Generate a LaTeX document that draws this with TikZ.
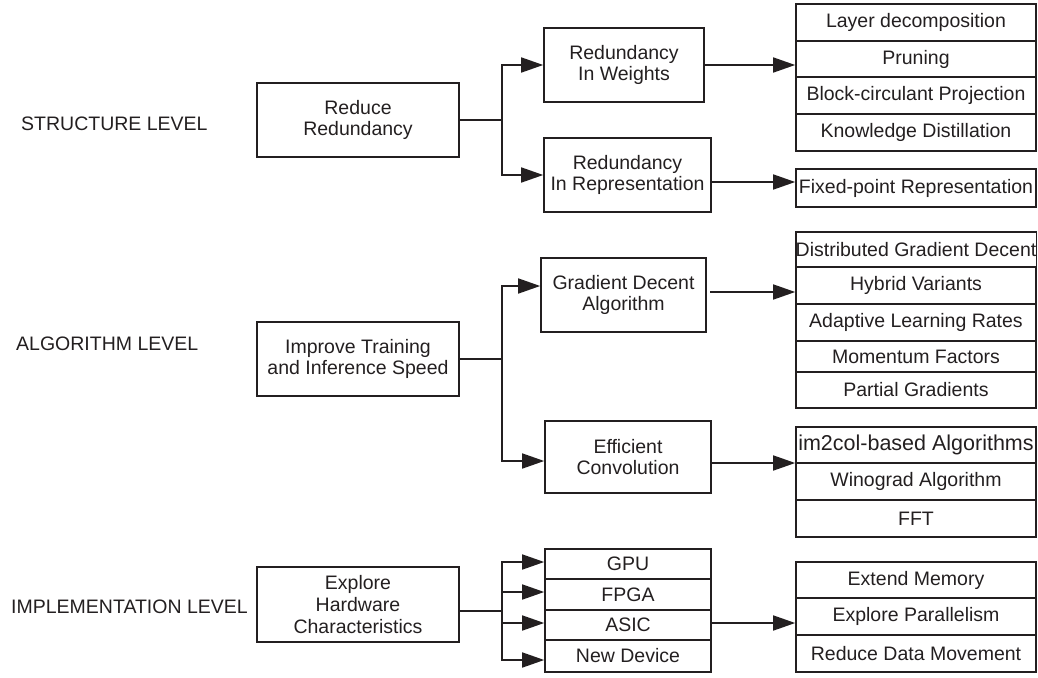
\documentclass[tikz,border=0pt]{standalone}
\usepackage{fontspec}
\setmainfont{Liberation Sans}
\usetikzlibrary{arrows.meta}
\definecolor{ink}{RGB}{35,31,32}
\begin{document}
\begin{tikzpicture}[x=1pt,y=-1pt,
  box/.style={draw=ink, line width=1.6pt, text=ink, align=center, inner sep=0pt,
    font=\fontsize{19.5}{21.7}\selectfont},
  main/.style={box, minimum width=202pt},
  cell/.style={box, minimum width=240pt},
  ln/.style={draw=ink, line width=1.6pt, line cap=rect},
  arr/.style={draw=ink, line width=1.6pt, line cap=rect, -{Triangle[length=22pt,width=15pt]}},
  lvl/.style={anchor=west, text=ink, inner sep=0pt, font=\fontsize{19.5}{21.7}\selectfont}]
\useasboundingbox (0,0) rectangle (1038,677);

% level labels
\node[lvl] (sl) at (21,123.5) {STRUCTURE LEVEL};
\node[lvl] (al) at (16,343.5) {ALGORITHM LEVEL};
\node[lvl] (il) at (11,606.5) {IMPLEMENTATION LEVEL};

% level 1
\node[main, minimum height=74pt] (R) at (358,120) {Reduce\\Redundancy};
\node[main, minimum height=74pt] (I) at (358,359) {Improve Training\\and Inference Speed};
\node[main, minimum height=75pt] (E) at (358,604.5) {Explore\\Hardware\\Characteristics};

% level 2
\node[box, minimum width=160pt, minimum height=74pt] (RW) at (624,65) {Redundancy\\In Weights};
\node[box, minimum width=167pt, minimum height=74pt] (RR) at (627.5,175) {Redundancy\\In Representation};
\node[box, minimum width=165pt, minimum height=74pt] (GD) at (623.5,295) {Gradient Decent\\Algorithm};
\node[box, minimum width=166pt, minimum height=72pt] (EC) at (628,457) {Efficient\\Convolution};
\node[box, minimum width=166pt, minimum height=30pt] (GPU) at (628,564) {GPU};
\node[box, minimum width=166pt, minimum height=31pt] (FPGA) at (628,594.5) {FPGA};
\node[box, minimum width=166pt, minimum height=30pt] (ASIC) at (628,625) {ASIC};
\node[box, minimum width=166pt, minimum height=32pt] (ND) at (628,656) {New Device};

% level 3
\node[cell, minimum height=37pt] (l1) at (916,22.5) {Layer decomposition};
\node[cell, minimum height=36pt] (l2) at (916,59) {Pruning};
\node[cell, minimum height=37pt] (l3) at (916,95.5) {Block-circulant Projection};
\node[cell, minimum height=37pt] (l4) at (916,132.5) {Knowledge Distillation};
\node[cell, minimum height=38pt] (fx) at (916,188) {Fixed-point Representation};
\node[cell, minimum height=35pt] (g1) at (916,249.5) {Distributed Gradient Decent};
\node[cell, minimum height=37pt] (g2) at (916,285.5) {Hybrid Variants};
\node[cell, minimum height=37pt] (g3) at (916,322.5) {Adaptive Learning Rates};
\node[cell, minimum height=31pt] (g4) at (916,356.5) {Momentum Factors};
\node[cell, minimum height=36pt] (g5) at (916,390) {Partial Gradients};
\node[cell, minimum height=36pt, font=\fontsize{21.5}{24}\selectfont] (c1) at (916,445) {im2col-based Algorithms};
\node[cell, minimum height=37pt] (c2) at (916,481.5) {Winograd Algorithm};
\node[cell, minimum height=37pt] (c3) at (916,518.5) {FFT};
\node[cell, minimum height=36pt] (h1) at (916,580) {Extend Memory};
\node[cell, minimum height=37pt] (h2) at (916,616.5) {Explore Parallelism};
\node[cell, minimum height=37pt] (h3) at (916,653.5) {Reduce Data Movement};

% structure connectors
\coordinate (j1a) at (502,65);
\coordinate (j1b) at (502,175);
\draw[ln] (R.east) -- (R.east -| j1a);
\draw[ln] (j1a) -- (j1b);
\draw[arr] (j1a) -- (j1a -| RW.west);
\draw[arr] (j1b) -- (j1b -| RR.west);
\draw[arr] (RW.east) -- (RW.east -| l2.west);
\draw[arr] ([yshift=-7pt]RR.east) -- ([yshift=-7pt]RR.east -| fx.west);

% algorithm connectors
\coordinate (j2a) at (502,286);
\coordinate (j2b) at (502,461);
\draw[ln] (I.east) -- (I.east -| j2a);
\draw[ln] (j2a) -- (j2b);
\draw[arr] (j2a) -- (j2a -| GD.west);
\draw[arr] (j2b) -- (j2b -| EC.west);
\draw[arr] ([shift={(4pt,3pt)}]GD.east) -- ([yshift=3pt]GD.east -| g2.west);
\draw[arr] ([yshift=-6pt]EC.east) -- ([yshift=-6pt]EC.east -| c1.west);

% implementation connectors
\coordinate (j3a) at (502,562);
\coordinate (j3b) at (502,592);
\coordinate (j3c) at (502,623);
\coordinate (j3d) at (502,660);
\draw[ln] ([yshift=-6.5pt]E.east) -- ([yshift=-6.5pt]E.east -| j3a);
\draw[ln] (j3a) -- (j3d);
\draw[arr] (j3a) -- (j3a -| GPU.west);
\draw[arr] (j3b) -- (j3b -| FPGA.west);
\draw[arr] (j3c) -- (j3c -| ASIC.west);
\draw[arr] (j3d) -- (j3d -| ND.west);
\draw[arr] ([yshift=2pt]ASIC.east) -- ([yshift=2pt]ASIC.east -| h2.west);
\end{tikzpicture}
\end{document}
